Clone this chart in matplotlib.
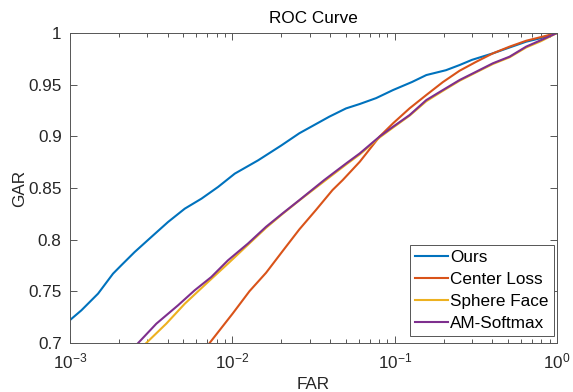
import numpy as np
import matplotlib
matplotlib.use("Agg")
import matplotlib.pyplot as plt
from matplotlib.ticker import LogLocator

plt.rcParams['font.family'] = ['Liberation Sans', 'DejaVu Sans']
plt.rcParams['mathtext.default'] = 'regular'

# log10(FAR) sample points and GAR values
ours_logfar = [-3.0, -2.93, -2.827, -2.735, -2.684, -2.602, -2.499, -2.396, -2.293, -2.19,
               -2.088, -1.985, -1.841, -1.70, -1.587, -1.403, -1.30, -1.215, -1.114, -1.01,
               -0.893, -0.805, -0.684, -0.60, -0.524, -0.395, -0.292, -0.19, -0.1, 0.0]
ours_gar = [0.7222, 0.7316, 0.7478, 0.7671, 0.7752, 0.788, 0.8026, 0.8171, 0.830, 0.8397,
            0.851, 0.8639, 0.8768, 0.891, 0.903, 0.919, 0.927, 0.9313, 0.937, 0.9448,
            0.9526, 0.9593, 0.964, 0.969, 0.974, 0.9803, 0.986, 0.9916, 0.995, 1.0]

center_logfar = [-2.14, -1.997, -1.894, -1.792, -1.69, -1.587, -1.485, -1.383, -1.32, -1.215,
                 -1.092, -1.01, -0.908, -0.805, -0.703, -0.60, -0.497, -0.395, -0.292, -0.19,
                 -0.1, 0.0]
center_gar = [0.70, 0.7287, 0.7502, 0.768, 0.789, 0.810, 0.8287, 0.848, 0.8577, 0.8754,
              0.8999, 0.9126, 0.9271, 0.940, 0.9525, 0.9635, 0.9722, 0.9803, 0.9868, 0.9925,
              0.996, 1.0]

sphere_logfar = [-2.53, -2.407, -2.293, -2.15, -2.027, -1.904, -1.792, -1.69, -1.587, -1.434,
                 -1.297, -1.215, -1.092, -1.01, -0.908, -0.805, -0.703, -0.60, -0.497, -0.395,
                 -0.292, -0.19, -0.1, 0.0]
sphere_gar = [0.70, 0.7187, 0.738, 0.759, 0.7768, 0.795, 0.8115, 0.825, 0.838, 0.8565,
              0.873, 0.8825, 0.899, 0.9085, 0.920, 0.934, 0.944, 0.9538, 0.962, 0.970,
              0.9765, 0.986, 0.992, 1.0]

am_logfar = [-2.58, -2.468, -2.335, -2.232, -2.13, -2.027, -1.904, -1.792, -1.69, -1.587,
             -1.434, -1.297, -1.215, -1.092, -1.01, -0.908, -0.805, -0.703, -0.60, -0.497,
             -0.395, -0.292, -0.19, -0.1, 0.0]
am_gar = [0.70, 0.7187, 0.7364, 0.751, 0.7638, 0.780, 0.7962, 0.8125, 0.8255, 0.8383,
          0.8577, 0.874, 0.8835, 0.8999, 0.9093, 0.9206, 0.9351, 0.9448, 0.9545, 0.9626,
          0.9707, 0.9771, 0.9868, 0.993, 1.0]

series = [
    ("Ours", ours_logfar, ours_gar, "#0072BD"),
    ("Center Loss", center_logfar, center_gar, "#D95319"),
    ("Sphere Face", sphere_logfar, sphere_gar, "#EDB120"),
    ("AM-Softmax", am_logfar, am_gar, "#7E2F8E"),
]

fig = plt.figure(figsize=(5.73, 3.92), dpi=100)
ax = fig.add_axes([70/573, 1-343/392, (557-70)/573, (343-33)/392])

for name, lf, g, c in series:
    ax.plot(10.0 ** np.array(lf), g, color=c, lw=1.5, label=name)

ax.set_xscale('log')
ax.set_xlim(1e-3, 1)
ax.set_ylim(0.7, 1.0)
ax.set_yticks([0.7, 0.75, 0.8, 0.85, 0.9, 0.95, 1.0])
ax.set_yticklabels(['0.7', '0.75', '0.8', '0.85', '0.9', '0.95', '1'])
ax.xaxis.set_major_locator(LogLocator(base=10, numticks=10))
ax.xaxis.set_minor_locator(LogLocator(base=10, subs=np.arange(2, 10), numticks=20))

axc = '#262626'
for s in ax.spines.values():
    s.set_color('#555555')
    s.set_linewidth(0.7)
ax.tick_params(which='both', direction='in', top=True, right=True, colors='#555555',
               labelcolor=axc, labelsize=12.3, width=0.7)
ax.tick_params(which='major', length=5, pad=6)
ax.tick_params(which='minor', length=3)

ax.set_title("ROC Curve", fontsize=12.3, color='black', pad=7)
ax.set_xlabel("FAR", fontsize=12.3, color=axc, labelpad=4)
ax.set_ylabel("GAR", fontsize=12.3, color=axc, labelpad=1)

leg = ax.legend(loc='lower right', bbox_to_anchor=(0.9938, 0.0226), fontsize=12.3,
                frameon=True, fancybox=False, edgecolor='#555555', framealpha=1,
                handlelength=1.9, handletextpad=0.15, labelspacing=0.4,
                borderpad=0.3, borderaxespad=0.0)
leg.get_frame().set_linewidth(0.7)

fig.savefig("out.png", dpi=100)
